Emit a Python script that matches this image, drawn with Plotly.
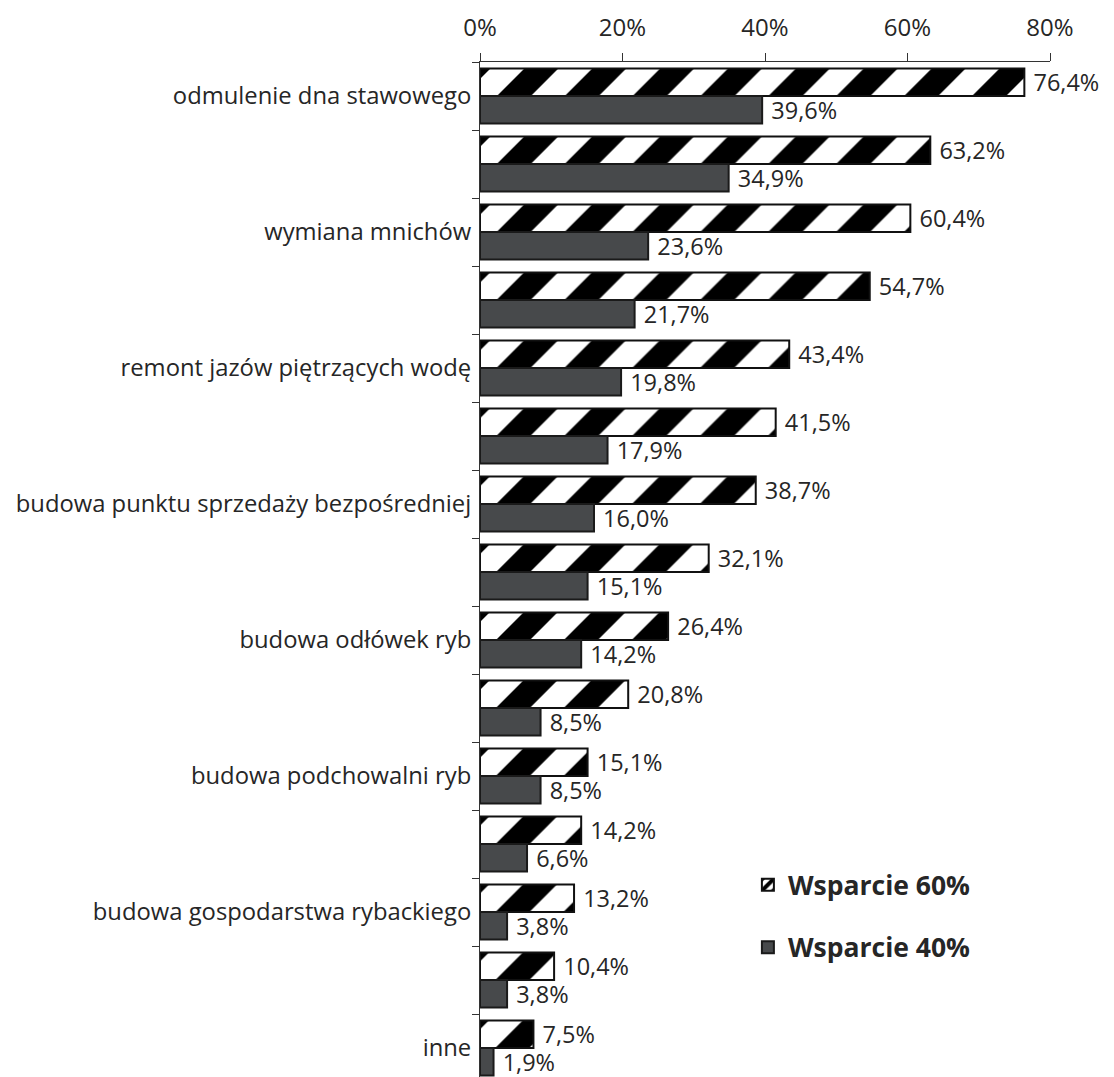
import plotly.graph_objects as go

categories = [
    "odmulenie dna stawowego", "kat_2", "wymiana mnichów", "kat_4",
    "remont jazów piętrzących wodę", "kat_6",
    "budowa punktu sprzedaży bezpośredniej", "kat_8",
    "budowa odłówek ryb", "kat_10", "budowa podchowalni ryb", "kat_12",
    "budowa gospodarstwa rybackiego", "kat_14", "inne",
]
tick_labels = [
    "odmulenie dna stawowego", "", "wymiana mnichów", "",
    "remont jazów piętrzących wodę", "",
    "budowa punktu sprzedaży bezpośredniej", "",
    "budowa odłówek ryb", "", "budowa podchowalni ryb", "",
    "budowa gospodarstwa rybackiego", "", "inne",
]
wsparcie_60 = [76.4, 63.2, 60.4, 54.7, 43.4, 41.5, 38.7, 32.1, 26.4, 20.8, 15.1, 14.2, 13.2, 10.4, 7.5]
wsparcie_40 = [39.6, 34.9, 23.6, 21.7, 19.8, 17.9, 16.0, 15.1, 14.2, 8.5, 8.5, 6.6, 3.8, 3.8, 1.9]
series_names = ["Wsparcie 60%", "Wsparcie 40%"]
x_ticks = [0, 20, 40, 60, 80]

FONT = "Open Sans"
TXT = "#262626"


def fmt(v):
    return " " + f"{v:.1f}".replace(".", ",") + "%"


fig = go.Figure()
fig.add_trace(go.Bar(
    y=categories, x=wsparcie_60, orientation="h", name=series_names[0],
    marker=dict(color="white", line=dict(color="#111111", width=2),
                pattern=dict(shape="/", fgcolor="black", bgcolor="white",
                             size=48, solidity=0.5, fillmode="replace")),
    text=[fmt(v) for v in wsparcie_60], textposition="outside",
    textfont=dict(family=FONT, size=23.5, color=TXT),
    constraintext="none", cliponaxis=False, legendgroup="a",
))
fig.add_trace(go.Bar(
    y=categories, x=wsparcie_40, orientation="h", name=series_names[1],
    marker=dict(color="#47494b", line=dict(color="#1a1a1a", width=2)),
    text=[fmt(v) for v in wsparcie_40], textposition="outside",
    textfont=dict(family=FONT, size=23.5, color=TXT),
    constraintext="none", cliponaxis=False, legendgroup="b",
))

fig.update_layout(
    width=1114, height=1077,
    margin=dict(l=472, r=72, t=54, b=3),
    paper_bgcolor="white", plot_bgcolor="white",
    barmode="group", bargap=0.19, bargroupgap=0,
    font=dict(family=FONT, size=23, color=TXT),
    showlegend=True,
    legend=dict(x=0.47, y=0.2167, xanchor="left", yanchor="top",
                font=dict(family=FONT, size=26.5, color=TXT, weight="bold"),
                traceorder="grouped", tracegroupgap=25,
                bgcolor="rgba(0,0,0,0)", itemwidth=30),
)
fig.update_xaxes(
    side="top", range=[0, 80], tickmode="array", tickvals=x_ticks,
    ticktext=[f"{t}%" for t in x_ticks], showline=True, linecolor="#333333",
    linewidth=1, ticks="outside", ticklen=8, tickcolor="#333333",
    showgrid=False, zeroline=False, tickfont=dict(family=FONT, size=24, color=TXT),
    ticklabelstandoff=7, automargin=False,
)
fig.update_yaxes(
    type="category", categoryorder="array", categoryarray=categories,
    autorange="reversed", tickmode="array", tickvals=categories,
    ticktext=tick_labels, tickson="boundaries", ticks="outside", ticklen=7,
    tickcolor="#333333", showline=True, linecolor="#333333", linewidth=1,
    showgrid=False, tickfont=dict(family=FONT, size=23.8, color=TXT),
    ticklabelstandoff=3, automargin=False,
)

fig.write_html("out.html")
